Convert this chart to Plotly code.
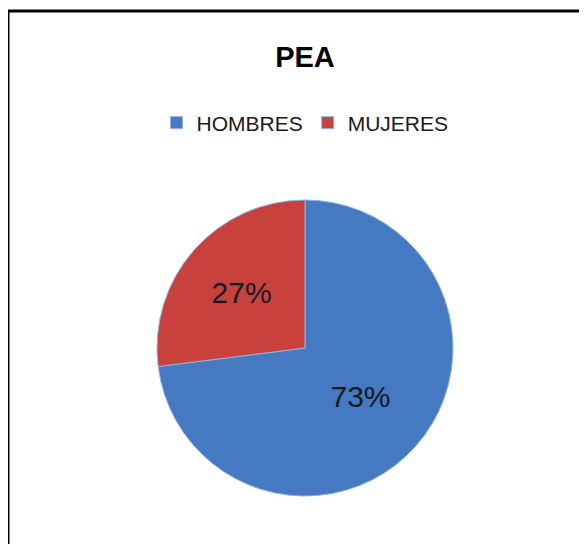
import plotly.graph_objects as go

# PEA by sex
labels = ["HOMBRES", "MUJERES"]
values = [73, 27]
colors = ["#4579C2", "#C9413D"]

# page has an 8px body margin, so the figure is drawn 8px in from the corner
OFF = 8
W, H = 587 - OFF, 544 - OFF
# pie box in page pixels: center (305, 348), radius 148
L, R, T, B = 157 - OFF, W - (453 - OFF), 200 - OFF, H - (496 - OFF)
pw, ph = W - L - R, H - T - B


def px_x(x):
    return (x - OFF - L) / pw


def px_y(y):
    return 1 + (T - (y - OFF)) / ph


fig = go.Figure(
    go.Pie(
        labels=labels,
        values=values,
        sort=False,
        direction="clockwise",
        rotation=0,
        marker=dict(colors=colors, line=dict(color="#8FB4E6", width=1)),
        texttemplate="%{percent:.0%}",
        textposition="inside",
        insidetextorientation="horizontal",
        textfont=dict(family="Liberation Sans, Arial", size=30, color="#151A24"),
        hoverinfo="label+percent",
    )
)

fig.update_layout(
    width=W,
    height=H,
    margin=dict(l=L, r=R, t=T, b=B),
    paper_bgcolor="white",
    plot_bgcolor="white",
    title=dict(
        text="<b>PEA</b>",
        x=(305 - OFF) / W,
        xanchor="center",
        y=1 - (57 - OFF) / H,
        yanchor="middle",
        font=dict(family="Liberation Sans, Arial", size=29, color="#000000"),
    ),
    legend=dict(
        orientation="h",
        x=0.5,
        xanchor="center",
        y=px_y(123),
        yanchor="middle",
        font=dict(family="Liberation Sans, Arial", size=21, color="#1A1A1A"),
        itemwidth=30,
        traceorder="normal",
    ),
    shapes=[
        dict(
            type="rect",
            xref="paper",
            yref="paper",
            x0=px_x(8),
            x1=px_x(620),
            y0=px_y(580),
            y1=px_y(11),
            line=dict(color="black", width=3),
            fillcolor="rgba(0,0,0,0)",
            layer="below",
        )
    ],
)

fig.write_html("out.html")
